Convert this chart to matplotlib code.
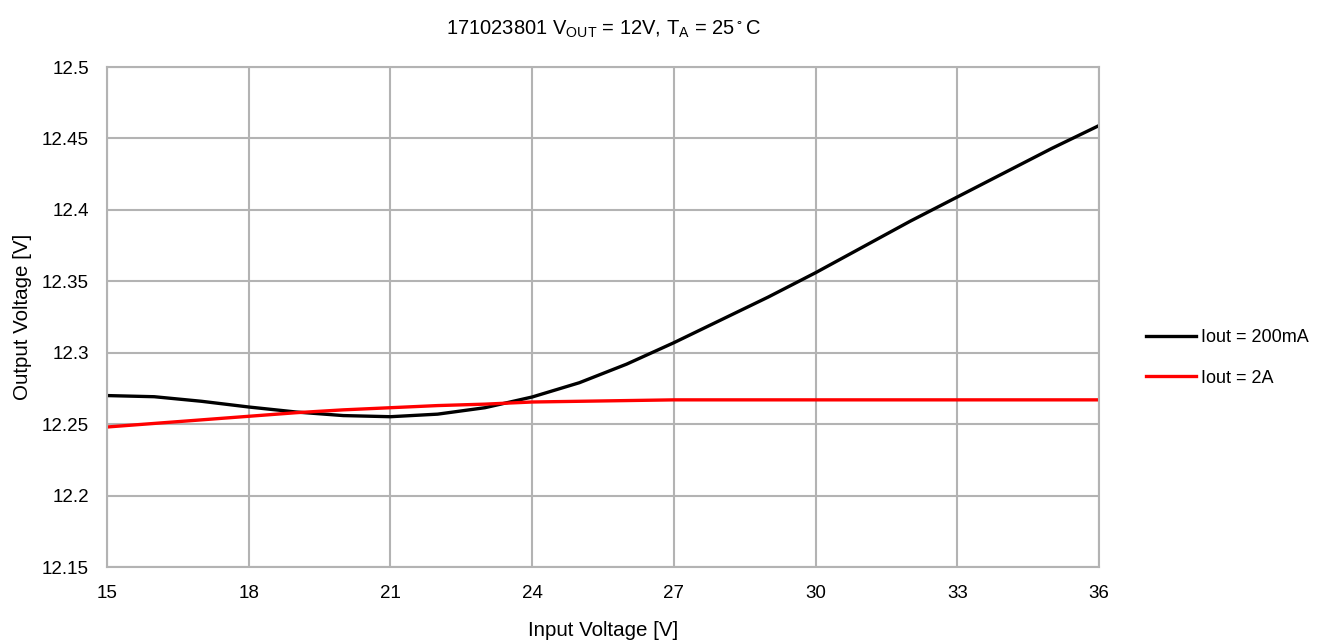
import matplotlib
matplotlib.use("Agg")
import matplotlib.pyplot as plt
from matplotlib.ticker import FuncFormatter

plt.rcParams['font.family'] = ['Liberation Sans', 'DejaVu Sans']
plt.rcParams['mathtext.fontset'] = 'custom'
plt.rcParams['mathtext.rm'] = 'Liberation Sans'

# Input voltage (V)
vin = [15, 16, 17, 18, 19, 20, 21, 22, 23, 24, 25, 26,
       27, 28, 29, 30, 31, 32, 33, 34, 35, 36]
# Output voltage, Iout = 200mA
vout_200ma = [12.270, 12.2692, 12.266, 12.262, 12.2585, 12.256, 12.2552, 12.257,
              12.2615, 12.269, 12.279, 12.292, 12.307, 12.323, 12.339, 12.356,
              12.374, 12.392, 12.409, 12.426, 12.443, 12.459]
# Output voltage, Iout = 2A
vout_2a = [12.248, 12.2505, 12.253, 12.2555, 12.258, 12.260, 12.2615, 12.263,
           12.264, 12.2655, 12.266, 12.2665, 12.267, 12.267, 12.267, 12.267,
           12.267, 12.267, 12.267, 12.267, 12.267, 12.267]

x_ticks = [15, 18, 21, 24, 27, 30, 33, 36]
y_ticks = [12.15, 12.2, 12.25, 12.3, 12.35, 12.4, 12.45, 12.5]

fig = plt.figure(figsize=(13.24, 6.44), dpi=100)
ax = fig.add_axes([107 / 1324, 1 - 567 / 644, 992 / 1324, 500 / 644])

ax.plot(vin, vout_200ma, color='black', lw=2.4, label='Iout = 200mA',
        solid_joinstyle='round')
ax.plot(vin, vout_2a, color='#ff0000', lw=2.4, label='Iout = 2A',
        solid_joinstyle='round')

ax.set_xlim(15, 36)
ax.set_ylim(12.15, 12.5)
ax.set_xticks(x_ticks)
ax.set_yticks(y_ticks)
ax.yaxis.set_major_formatter(FuncFormatter(lambda v, p: '%g' % round(v, 3)))
ax.grid(True, color='#b3b3b3', lw=1.5)
ax.set_axisbelow(True)
for s in ax.spines.values():
    s.set_color('#b3b3b3')
    s.set_linewidth(1.5)
ax.tick_params(length=0, labelsize=13.5, pad=13)

ax.set_xlabel('Input Voltage [V]', fontsize=14.8, labelpad=14)
ax.set_ylabel('Output Voltage [V]', fontsize=14.8, labelpad=7)
ax.set_title(r'171023801 V$_{\mathregular{OUT}}$ = 12V, T$_{\mathregular{A}}$ = 25$\mathregular{^\circ}$C',
             fontsize=14.5, pad=23)

ax.legend(loc='center left', bbox_to_anchor=(1.038, 0.418), frameon=False,
          fontsize=13, borderpad=0, handlelength=2.8, handletextpad=0.25,
          labelspacing=1.3)

fig.savefig('out.png', dpi=100)
